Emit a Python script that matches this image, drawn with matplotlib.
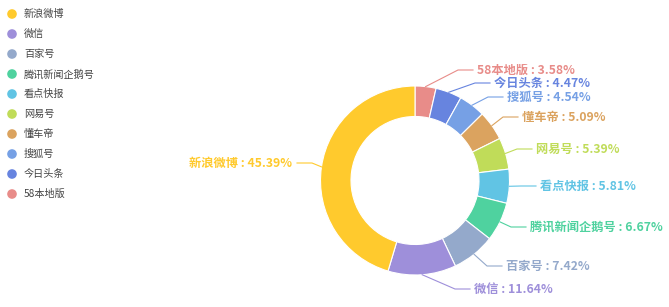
import numpy as np
import matplotlib
matplotlib.use("Agg")
import matplotlib.pyplot as plt

plt.rcParams['font.family'] = ['Noto Sans CJK SC', 'DejaVu Sans']

# legend order (as shown top to bottom)
names = ["新浪微博", "微信", "百家号", "腾讯新闻企鹅号", "看点快报",
         "网易号", "懂车帝", "搜狐号", "今日头条", "58本地版"]
shares = [45.39, 11.64, 7.42, 6.67, 5.81, 5.39, 5.09, 4.54, 4.47, 3.58]
colors = ["#FFCA2D", "#9E8FDA", "#94A9CB", "#4FD29F", "#61C4E4",
          "#C0DC59", "#DBA35F", "#76A0E5", "#6784DF", "#E88C89"]

# label placement in pixels: (text x, text y)
label_pos = {
    "58本地版": (477, 70),
    "今日头条": (494, 83),
    "搜狐号": (507, 97),
    "懂车帝": (522, 117),
    "网易号": (536, 149),
    "看点快报": (540, 186),
    "腾讯新闻企鹅号": (530, 227),
    "百家号": (506, 266),
    "微信": (474, 289),
    "新浪微博": (292, 163),
}

W, H = 669, 307
fig = plt.figure(figsize=(W / 100, H / 100), dpi=100)
ax = fig.add_axes([0, 0, 1, 1])

cx, cy = 415, H - 180.5
r_out, r_in = 94.5, 64

# pie drawn clockwise from the top, smallest slice first
order = names[::-1]
vals = shares[::-1]
cols = colors[::-1]
ax.pie(vals, colors=cols, startangle=90, counterclock=False,
       center=(cx, cy), radius=r_out, frame=True,
       wedgeprops=dict(width=r_out - r_in, edgecolor="white", linewidth=0.8))
ax.set_xlim(0, W)
ax.set_ylim(0, H)
ax.axis("off")

total = sum(vals)
acc = 0
for name, v, c in zip(order, vals, cols):
    mid = (acc + v / 2) / total * 2 * np.pi
    acc += v
    sx = cx + r_out * np.sin(mid)
    sy = cy + r_out * np.cos(mid)
    tx, ty = label_pos[name]
    ty = H - ty
    txt = f"{name} : {v:.2f}%"
    if sx < cx:
        ax.plot([sx, tx + 20, tx + 5], [sy, ty, ty], color=c, lw=0.8)
        ax.text(tx, ty, txt, color=c, fontsize=8.8, fontweight="bold",
                ha="right", va="center")
    else:
        ax.plot([sx, tx - 19, tx - 4], [sy, ty, ty], color=c, lw=0.8)
        ax.text(tx, ty, txt, color=c, fontsize=8.8, fontweight="bold",
                ha="left", va="center")

# legend
for i, (name, c) in enumerate(zip(names, colors)):
    ly = H - (14 + i * 20)
    ax.scatter([12], [ly], s=48, color=c, edgecolors="none")
    ax.text(24, ly, name, fontsize=7.3, color="#444444", va="center", ha="left")

fig.savefig("out.png", dpi=100)
